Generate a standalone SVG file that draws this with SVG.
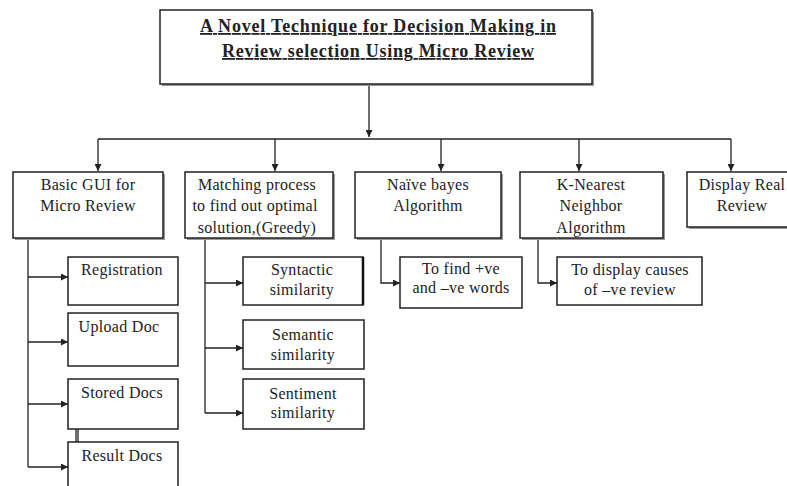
<svg xmlns="http://www.w3.org/2000/svg" width="787" height="486" viewBox="0 0 787 486">
<style>
.box{fill:#fff;stroke:#222;stroke-width:1.5}
.sh{fill:#9a9a9a}
.t{font-family:"Liberation Serif","Times New Roman",serif;font-size:16px;letter-spacing:0.3px;fill:#222;text-anchor:middle}
.title{font-family:"Liberation Serif","Times New Roman",serif;font-size:18px;font-weight:bold;fill:#222;text-anchor:middle;text-decoration:underline}
.c{fill:none;stroke:#222;stroke-width:1.3}
</style>
<defs>
<marker id="ah" viewBox="0 0 10 10" refX="10" refY="5" markerWidth="7" markerHeight="7" markerUnits="userSpaceOnUse" orient="auto">
<path d="M0,0 L10,5 L0,10 z" fill="#222"/>
</marker>
</defs>
<rect width="787" height="486" fill="#fff"/>
<g id="connectors">
<path class="c" d="M369,84 V137" marker-end="url(#ah)"/>
<path class="c" d="M98,139 H731"/>
<path class="c" d="M98,139 V171" marker-end="url(#ah)"/>
<path class="c" d="M275,139 V171" marker-end="url(#ah)"/>
<path class="c" d="M441,139 V171" marker-end="url(#ah)"/>
<path class="c" d="M579,139 V171" marker-end="url(#ah)"/>
<path class="c" d="M731,139 V171" marker-end="url(#ah)"/>
<path class="c" d="M28,238 V467"/>
<path class="c" d="M28,277 H68" marker-end="url(#ah)"/>
<path class="c" d="M28,342 H68" marker-end="url(#ah)"/>
<path class="c" d="M28,404 H68" marker-end="url(#ah)"/>
<path class="c" d="M28,467 H68" marker-end="url(#ah)"/>
<path class="c" d="M205,238 V413"/>
<path class="c" d="M205,283 H243" marker-end="url(#ah)"/>
<path class="c" d="M205,348 H243" marker-end="url(#ah)"/>
<path class="c" d="M205,413 H243" marker-end="url(#ah)"/>
<path class="c" d="M381,238 V283 H400" marker-end="url(#ah)"/>
<path class="c" d="M538,238 V283 H557" marker-end="url(#ah)"/>
<path class="c" d="M76,429 V442 M78,429 V442"/>
</g>
<g id="title">
<rect class="sh" x="162" y="12" width="432" height="74"/>
<rect class="box" x="160" y="10" width="432" height="74"/>
<text class="title" x="378" y="32" textLength="356" lengthAdjust="spacing">A Novel Technique for Decision Making in</text>
<text class="title" x="378" y="57" textLength="312" lengthAdjust="spacing">Review selection Using Micro Review</text>
</g>
<g id="gui">
<rect class="sh" x="15" y="174" width="150" height="66"/>
<rect class="box" x="13" y="172" width="150" height="66"/>
<text class="t" x="88" y="190">Basic GUI for</text>
<text class="t" x="88" y="211">Micro Review</text>
</g>
<g id="matching">
<rect class="sh" x="187" y="174" width="148" height="66"/>
<rect class="box" x="185" y="172" width="148" height="66"/>
<text class="t" x="257" y="190">Matching process</text>
<text class="t" x="255" y="211">to find out optimal</text>
<text class="t" x="257" y="233">solution,(Greedy)</text>
</g>
<g id="naive">
<rect class="sh" x="357" y="174" width="146" height="66"/>
<rect class="box" x="355" y="172" width="146" height="66"/>
<text class="t" x="428" y="190">Naïve bayes</text>
<text class="t" x="428" y="211">Algorithm</text>
</g>
<g id="knn">
<rect class="sh" x="522" y="174" width="143" height="66"/>
<rect class="box" x="520" y="172" width="143" height="66"/>
<text class="t" x="591" y="190">K-Nearest</text>
<text class="t" x="591" y="211">Neighbor</text>
<text class="t" x="591" y="233">Algorithm</text>
</g>
<g id="display">
<rect class="sh" x="689" y="174" width="110" height="55"/>
<rect class="box" x="687" y="172" width="110" height="55"/>
<text class="t" x="742" y="190">Display Real</text>
<text class="t" x="742" y="211">Review</text>
</g>
<g id="registration">
<rect class="box" x="68" y="257" width="110" height="48"/>
<text class="t" x="122" y="275">Registration</text>
</g>
<g id="upload">
<rect class="box" x="68" y="313" width="110" height="53"/>
<text class="t" x="119" y="332">Upload Doc</text>
</g>
<g id="stored">
<rect class="box" x="68" y="379" width="110" height="50"/>
<text class="t" x="122" y="398">Stored Docs</text>
</g>
<g id="result">
<rect class="box" x="68" y="442" width="110" height="50"/>
<text class="t" x="122" y="461">Result Docs</text>
</g>
<g id="syntactic">
<rect class="box" x="243" y="257" width="120" height="48"/>
<line x1="363" y1="257" x2="363" y2="305" stroke="#111" stroke-width="2.5"/>
<text class="t" x="302" y="275">Syntactic</text>
<text class="t" x="302" y="295">similarity</text>
</g>
<g id="semantic">
<rect class="box" x="243" y="320" width="121" height="49"/>
<text class="t" x="303" y="340">Semantic</text>
<text class="t" x="303" y="360">similarity</text>
</g>
<g id="sentiment">
<rect class="box" x="243" y="379" width="121" height="50"/>
<text class="t" x="303" y="399">Sentiment</text>
<text class="t" x="303" y="418">similarity</text>
</g>
<g id="findwords">
<rect class="box" x="400" y="257" width="122" height="51"/>
<text class="t" x="461" y="274">To find +ve</text>
<text class="t" x="461" y="293">and –ve words</text>
</g>
<g id="causes">
<rect class="box" x="557" y="257" width="145" height="48"/>
<text class="t" x="630" y="275">To display causes</text>
<text class="t" x="630" y="295">of –ve review</text>
</g>
</svg>
